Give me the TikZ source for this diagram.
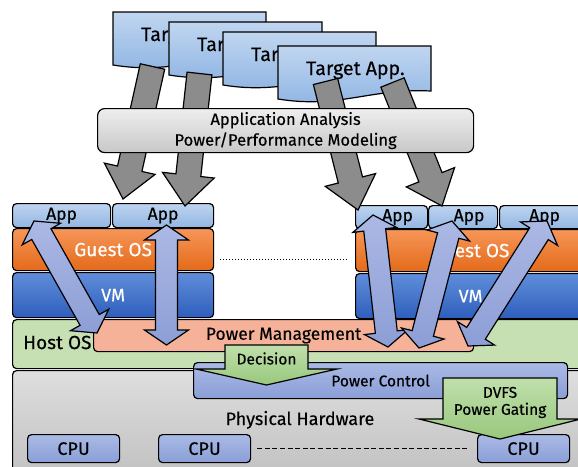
\documentclass[tikz,border=0pt]{standalone}
\usepackage{fontspec}
\setmainfont{Fira Sans}[FakeBold=0.35,UprightFeatures={FakeBold=0.35}]
\usetikzlibrary{calc}

\definecolor{docT}{RGB}{192,214,240}
\definecolor{docB}{RGB}{141,179,226}
\definecolor{appT}{RGB}{190,212,240}
\definecolor{appB}{RGB}{146,182,226}
\definecolor{guestT}{RGB}{246,150,88}
\definecolor{guestB}{RGB}{228,106,26}
\definecolor{vmT}{RGB}{96,142,218}
\definecolor{vmB}{RGB}{46,94,188}
\definecolor{hostC}{RGB}{198,224,180}
\definecolor{pmC}{RGB}{245,178,152}
\definecolor{hwT}{RGB}{222,222,222}
\definecolor{hwB}{RGB}{192,192,192}
\definecolor{ctrlT}{RGB}{170,186,230}
\definecolor{ctrlB}{RGB}{138,158,214}
\definecolor{greenT}{RGB}{192,223,172}
\definecolor{greenB}{RGB}{152,200,124}
\definecolor{lavT}{RGB}{172,184,228}
\definecolor{lavB}{RGB}{140,158,214}
\definecolor{grayA}{RGB}{140,140,140}
\definecolor{anaT}{RGB}{238,238,238}
\definecolor{anaB}{RGB}{200,200,200}

% double-headed block arrow: style, tip A, tip B, head length, head half width, shaft half width
\newcommand\twowayarrow[6]{%
  \coordinate (tw-ca) at ($(#2)!#4!(#3)$);
  \coordinate (tw-cb) at ($(#3)!#4!(#2)$);
  \path[#1] (#2)
    -- ($(tw-ca)!#5!90:(#3)$) -- ($(tw-ca)!#6!90:(#3)$)
    -- ($(tw-cb)!#6!-90:(#2)$) -- ($(tw-cb)!#5!-90:(#2)$)
    -- (#3)
    -- ($(tw-cb)!#5!90:(#2)$) -- ($(tw-cb)!#6!90:(#2)$)
    -- ($(tw-ca)!#6!-90:(#3)$) -- ($(tw-ca)!#5!-90:(#3)$)
    -- cycle;
}
% single-headed block arrow: style, tail centre, tip, head length, head half width, shaft half width
\newcommand\onewayarrow[6]{%
  \coordinate (ow-c) at ($(#3)!#4!(#2)$);
  \path[#1] ($(#2)!#6!90:(#3)$)
    -- ($(ow-c)!#6!-90:(#2)$) -- ($(ow-c)!#5!-90:(#2)$)
    -- (#3)
    -- ($(ow-c)!#5!90:(#2)$) -- ($(ow-c)!#6!90:(#2)$)
    -- ($(#2)!#6!-90:(#3)$)
    -- cycle;
}
% wavy-bottomed application sheet: name, left, top
\newcommand\targetsheet[3]{%
  \path[sheet] (#2,#3) -- (#2+153,#3) -- (#2+153,#3+45)
    .. controls (#2+92,#3+42) and (#2+61,#3+63) .. (#2,#3+53) -- cycle;
  \node[sheetlabel] (#1) at (#2+28,#3+29) {Target App.};
}

\tikzset{
  outline/.style={draw=black, line width=1.2pt},
  box/.style={outline, rounded corners=4pt, inner sep=0pt, anchor=north west},
  sheet/.style={outline, top color=docT, bottom color=docB},
  sheetlabel/.style={anchor=base west, inner sep=0pt, font=\fontsize{19.5}{22}\selectfont},
  appbox/.style={box, top color=appT, bottom color=appB, font=\fontsize{17.5}{20}\selectfont},
  guestbox/.style={box, top color=guestT, bottom color=guestB, text=white, font=\fontsize{19}{22}\selectfont},
  vmbox/.style={box, top color=vmT, bottom color=vmB, text=white, font=\fontsize{18}{22}\selectfont},
  hostbox/.style={box, fill=hostC},
  pmbox/.style={box, fill=pmC, font=\fontsize{17.5}{20}\selectfont},
  hwbox/.style={box, top color=hwT, bottom color=hwB},
  ctrlbox/.style={box, top color=ctrlT, bottom color=ctrlB, font=\fontsize{15.5}{18}\selectfont},
  cpubox/.style={box, top color=ctrlT, bottom color=ctrlB, font=\fontsize{18}{20}\selectfont},
  anabox/.style={box, rounded corners=7pt, top color=anaT, bottom color=anaB, align=center,
    font=\fontsize{16.5}{20.7}\selectfont},
  greenarrow/.style={outline, top color=greenT, bottom color=greenB},
  grayarrow/.style={outline, fill=grayA},
  lavarrow/.style={outline, top color=lavT, bottom color=lavB},
  dotline/.style={line width=1pt, dash pattern=on 1.2pt off 1.8pt},
  dashline/.style={line width=1pt, dash pattern=on 5pt off 2.6pt},
}

\begin{document}
\begin{tikzpicture}[x=1pt, y=-1pt]
\useasboundingbox (0,0) rectangle (578,466);
\clip (0,0) rectangle (578,466);

% host OS and hardware layers
\node[hostbox, minimum width=600pt, minimum height=49pt] (host) at (12,319) {};
\node[anchor=west, inner sep=0pt, font=\fontsize{19}{22}\selectfont] (hostlbl) at (23,342.5) {Host OS};
\node[hwbox, minimum width=600pt, minimum height=110pt] (hw) at (12,370) {};
\node[anchor=base, inner sep=0pt, font=\fontsize{18}{22}\selectfont] (hwlbl) at (300,425) {Physical Hardware};
\node[ctrlbox, minimum width=374pt, minimum height=36pt] (ctrl) at (193,362) {Power Control};

\node[cpubox, minimum width=92pt, minimum height=28pt] (cpuA) at (27,434) {CPU};
\node[cpubox, minimum width=92pt, minimum height=28pt] (cpuB) at (158,434) {CPU};
\node[cpubox, minimum width=92pt, minimum height=28pt] (cpuC) at (477,434) {CPU};
\draw[dashline] ($(cpuB.east)+(6,0)$) -- ($(cpuC.west)+(-10,0)$);

% left guest stack
\node[appbox, minimum width=98pt, minimum height=24pt] (appA) at (12,203) {App};
\node[appbox, minimum width=101pt, minimum height=24pt] (appB) at (112,203) {App};
\node[guestbox, minimum width=201pt, minimum height=42pt] (guestL) at (12,228) {Guest OS};
\node[vmbox, minimum width=201pt, minimum height=45pt] (vmL) at (12,272) {VM};

% right guest stack
\node[appbox, minimum width=72pt, minimum height=23pt] (appC) at (355,205) {\hspace*{12pt}App};
\node[appbox, minimum width=69pt, minimum height=23pt] (appD) at (428,205) {\hspace*{12pt}App};
\node[appbox, minimum width=90pt, minimum height=23pt] (appE) at (499,205) {App};
\node[guestbox, minimum width=230pt, minimum height=42pt] (guestR) at (355,229) {Guest OS};
\node[vmbox, minimum width=230pt, minimum height=45pt] (vmR) at (355,273) {VM};

\draw[dotline] ($(guestL.south east)+(6,-12)$) -- ($(guestR.south west)+(-8,-13)$);

% power management and the decision / actuation arrows
\node[pmbox, minimum width=380pt, minimum height=32pt] (pm) at (93,319) {Power Management};

\path[greenarrow] (225,345) -- (308,345) -- (308,369) -- (337,369) -- (266.5,385)
  -- (196,369) -- (225,369) -- cycle;
\node[font=\fontsize{15.5}{18}\selectfont, inner sep=0pt] (decision) at (266.5,358.5) {Decision};

\path[greenarrow] (443,378) -- (557,378) -- (557,419) -- (581,419) -- (500,439)
  -- (419,419) -- (443,419) -- cycle;
\node[font=\fontsize{15.5}{17}\selectfont, align=center, inner sep=0pt] (dvfs) at (500,402.5) {DVFS\\Power Gating};

% target applications
\targetsheet{tA}{113}{12}
\targetsheet{tB}{169}{22}
\targetsheet{tC}{223}{32}
\targetsheet{tD}{278}{46}

% application flow into the guests
\coordinate (g1s) at (152.5,66.5); \coordinate (g1e) at (123,199);
\coordinate (g2s) at (199.5,73.5); \coordinate (g2e) at (185,206);
\coordinate (g3s) at (325.5,81.5); \coordinate (g3e) at (358,210);
\coordinate (g4s) at (392.5,82.5); \coordinate (g4e) at (442,206);
\onewayarrow{grayarrow}{g1s}{g1e}{31pt}{26pt}{12.5pt}
\onewayarrow{grayarrow}{g2s}{g2e}{31pt}{26pt}{12.5pt}
\onewayarrow{grayarrow}{g3s}{g3e}{31pt}{26pt}{12.5pt}
\onewayarrow{grayarrow}{g4s}{g4e}{31pt}{26pt}{12.5pt}

\node[anabox, minimum width=376pt, minimum height=44pt] (analysis) at (97,108)
  {Application Analysis\\Power/Performance Modeling};

% exchanges between applications and power management
\coordinate (l1a) at (34,221);  \coordinate (l1b) at (97,333);
\coordinate (l2a) at (166.5,225); \coordinate (l2b) at (166.5,345);
\coordinate (r1a) at (373,215); \coordinate (r1b) at (388,347);
\coordinate (r2a) at (452,221); \coordinate (r2b) at (419,348);
\coordinate (r3a) at (547,221); \coordinate (r3b) at (468,346);
\twowayarrow{lavarrow}{l1a}{l1b}{15pt}{22pt}{11pt}
\twowayarrow{lavarrow}{l2a}{l2b}{15pt}{22pt}{11pt}
\twowayarrow{lavarrow}{r1a}{r1b}{15pt}{22pt}{11pt}
\twowayarrow{lavarrow}{r2a}{r2b}{15pt}{22pt}{11pt}
\twowayarrow{lavarrow}{r3a}{r3b}{15pt}{22pt}{11pt}
\end{tikzpicture}
\end{document}
